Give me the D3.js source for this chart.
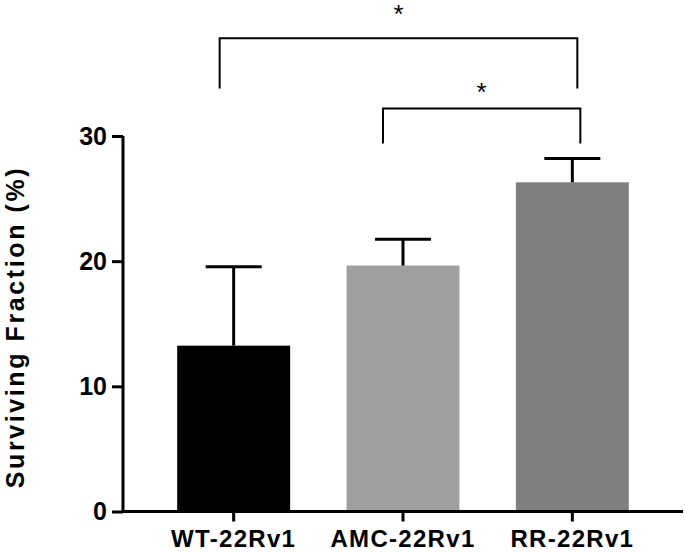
<!DOCTYPE html>
<html>
<head>
<meta charset="utf-8">
<script src="https://cdn.jsdelivr.net/npm/d3@7"></script>
<style>
  body { margin: 0; background: #fff; }
  text { font-family: "Liberation Sans", Arial, sans-serif; font-weight: bold; fill: #000; }
</style>
</head>
<body>
<div class="container"></div>
<script>
// data
let groups = ["WT-22Rv1", "AMC-22Rv1", "RR-22Rv1"];
let means = [13.25, 19.65, 26.3];
let errors = [6.3, 2.1, 1.9];
let colors = ["#000000", "#a0a0a0", "#7f7f7f"];
let yTicks = [0, 10, 20, 30];
// significance brackets: from, to, top level, leg bottom level
let brackets = [
  {from: "WT-22Rv1", to: "RR-22Rv1", top: 37.8, bottom: 33.8, dx0: -14, dx1: 5, label: "*", lift: 15},
  {from: "AMC-22Rv1", to: "RR-22Rv1", top: 32.2, bottom: 29.4, dx0: -20, dx1: 8, label: "*", lift: 7}
];

let width = 685, height = 552;

let svg = d3.select(".container").append("svg")
    .attr("width", width)
    .attr("height", height);

let x = d3.scaleBand()
    .domain(groups)
    .range([123, 683])
    .paddingInner(0.333)
    .paddingOuter(0.32);

let y = d3.scaleLinear()
    .domain([0, 30])
    .range([511.5, 136]);

// bars
svg.append("g").selectAll("rect")
  .data(groups)
  .enter().append("rect")
    .attr("x", d => x(d))
    .attr("width", x.bandwidth())
    .attr("y", (d, i) => y(means[i]))
    .attr("height", (d, i) => y(0) - y(means[i]))
    .style("fill", (d, i) => colors[i]);

// error bars (upper only)
let eb = svg.append("g").style("stroke", "#000").style("stroke-width", 3);
groups.forEach((g, i) => {
  let cx = x(g) + x.bandwidth() / 2;
  eb.append("line")
    .attr("x1", cx).attr("x2", cx)
    .attr("y1", y(means[i])).attr("y2", y(means[i] + errors[i]));
  eb.append("line")
    .attr("x1", cx - 28).attr("x2", cx + 28)
    .attr("y1", y(means[i] + errors[i])).attr("y2", y(means[i] + errors[i]));
});

// y axis
let yAxis = svg.append("g")
    .attr("transform", "translate(123,0)")
    .call(d3.axisLeft(y).tickValues(yTicks).tickSize(11).tickPadding(5).tickSizeOuter(0));
yAxis.select(".domain").style("stroke-width", 3).attr("d", "M0," + y(30) + "V" + y(0));
yAxis.selectAll(".tick line").style("stroke-width", 3);
yAxis.selectAll(".tick text").style("font-size", "25px").style("font-family", "Liberation Sans, Arial").style("font-weight", "bold");

// x axis
let xAxis = svg.append("g")
    .attr("transform", "translate(0," + y(0) + ")")
    .call(d3.axisBottom(x).tickSize(10).tickPadding(8).tickSizeOuter(0));
xAxis.select(".domain").style("stroke-width", 3).attr("d", "M121.5,0H683");
xAxis.selectAll(".tick line").style("stroke-width", 3);
xAxis.selectAll(".tick text")
    .style("font-size", "24px")
    .style("font-family", "Liberation Sans, Arial")
    .style("font-weight", "bold")
    .style("letter-spacing", "1.3px");

// y label
svg.append("text")
    .attr("transform", "translate(24," + 327 + ") rotate(-90)")
    .attr("text-anchor", "middle")
    .style("font-size", "25px")
    .style("letter-spacing", "2.6px")
    .text("Surviving Fraction (%)");

// significance brackets
let br = svg.append("g");
brackets.forEach(b => {
  let x0 = x(b.from) + x.bandwidth() / 2 + b.dx0;
  let x1 = x(b.to) + x.bandwidth() / 2 + b.dx1;
  br.append("path")
    .attr("d", "M" + x0 + "," + y(b.bottom) + "V" + y(b.top) + "H" + x1 + "V" + y(b.bottom))
    .style("fill", "none")
    .style("stroke", "#000")
    .style("stroke-width", 2);
  br.append("text")
    .attr("x", (x0 + x1) / 2)
    .attr("y", y(b.top) - b.lift)
    .attr("text-anchor", "middle")
    .style("font-size", "26px")
    .style("font-weight", "normal")
    .text(b.label);
});
</script>
</body>
</html>
